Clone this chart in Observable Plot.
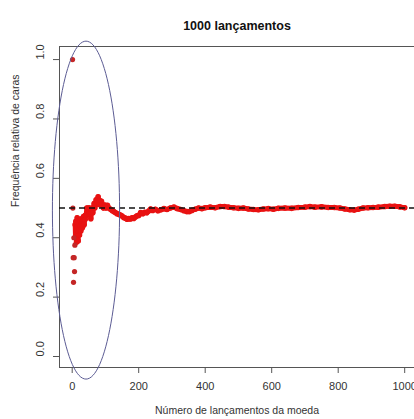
<!DOCTYPE html>
<html>
<head>
<meta charset="utf-8">
<script src="https://cdn.jsdelivr.net/npm/d3@7"></script>
<script src="https://cdn.jsdelivr.net/npm/@observablehq/plot@0.6"></script>
<style>
  html, body { margin: 0; padding: 0; background: white; }
</style>
</head>
<body>
<div id="chart"></div>
<script>
const chartTitle = "1000 lançamentos";
const xLabel = "Número de lançamentos da moeda";
const yLabel = "Frequência relativa de caras";
const xTicks = [0, 200, 400, 600, 800, 1000];
const yTicks = [0, 0.2, 0.4, 0.6, 0.8, 1.0];
const refLevel = [0.5];

// isolated first tosses
const earlyN = [1, 2, 3, 4, 5, 6, 7, 8];
const earlyFreq = [1.0, 0.5, 0.333, 0.25, 0.4, 0.333, 0.286, 0.375];

// dense band of running relative frequency
const tossN = [9, 10, 11, 12, 13, 14, 15, 16, 17, 18, 19, 20, 21, 22, 23, 24, 25, 26, 27, 28, 29, 30,
  31, 32, 33, 34, 35, 36, 37, 38, 39, 40, 42, 44, 46, 48, 50, 52, 54, 56, 58, 60, 62, 64, 66, 68, 70,
  72, 74, 76, 78, 80, 82, 84, 86, 88, 90, 94, 98, 102, 106, 110, 115, 120, 125, 130, 135, 140, 145,
  150, 155, 160, 165, 170, 175, 180, 185, 190, 195, 200, 206, 212, 218, 224, 230, 236, 242, 250, 258,
  267, 276, 285, 295, 306, 316, 326, 336, 345, 352, 360, 370, 380, 390, 400, 415, 430, 445, 458, 470,
  485, 500, 515, 530, 545, 560, 575, 590, 605, 620, 640, 660, 680, 700, 715, 730, 750, 770, 788, 805,
  820, 835, 848, 860, 875, 890, 905, 920, 940, 955, 970, 985, 1000];
const freq = [0.444, 0.4, 0.455, 0.417, 0.385, 0.429, 0.467, 0.438, 0.412, 0.389, 0.421, 0.45, 0.429,
  0.409, 0.435, 0.458, 0.44, 0.423, 0.444, 0.464, 0.448, 0.433, 0.452, 0.438, 0.455, 0.471, 0.457,
  0.444, 0.459, 0.474, 0.462, 0.475, 0.476, 0.5, 0.478, 0.5, 0.48, 0.5, 0.481, 0.464, 0.483, 0.5,
  0.484, 0.5, 0.515, 0.5, 0.514, 0.528, 0.514, 0.526, 0.538, 0.525, 0.512, 0.524, 0.512, 0.523, 0.511,
  0.5, 0.51, 0.5, 0.509, 0.5, 0.496, 0.492, 0.488, 0.485, 0.481, 0.479, 0.476, 0.473, 0.468, 0.466,
  0.462, 0.465, 0.463, 0.467, 0.465, 0.47, 0.474, 0.475, 0.485, 0.481, 0.486, 0.484, 0.49, 0.497,
  0.492, 0.496, 0.491, 0.494, 0.498, 0.495, 0.5, 0.503, 0.498, 0.495, 0.491, 0.488, 0.488, 0.492,
  0.496, 0.5, 0.498, 0.501, 0.503, 0.501, 0.505, 0.505, 0.503, 0.501, 0.499, 0.5, 0.497, 0.495, 0.494,
  0.497, 0.498, 0.496, 0.499, 0.5, 0.499, 0.502, 0.503, 0.505, 0.503, 0.504, 0.502, 0.502, 0.5, 0.497,
  0.494, 0.493, 0.496, 0.5, 0.501, 0.502, 0.503, 0.505, 0.506, 0.506, 0.504, 0.501];

// hand-drawn highlight ellipse (center and radii in data units)
const ellipseCenter = [41.5, 0.493];
const ellipseRadii = [101, 0.569];

const early = earlyN.map((n, i) => ({n, f: earlyFreq[i]}));
const band = tossN.map((n, i) => ({n, f: freq[i]}));
const ellipsePts = d3.range(0, 121).map(i => {
  const t = (i / 120) * 2 * Math.PI;
  return {x: ellipseCenter[0] + ellipseRadii[0] * Math.cos(t), y: ellipseCenter[1] + ellipseRadii[1] * Math.sin(t)};
});

const chart = Plot.plot({
  width: 414,
  height: 419,
  marginLeft: 59,
  marginRight: 0,
  marginTop: 46,
  marginBottom: 52,
  x: {domain: [-38.2, 1029.5]},
  y: {domain: [-0.037, 1.044]},
  style: {fontFamily: "'Liberation Sans', Arial, sans-serif", fontSize: "11px", color: "#333", background: "white"},
  marks: [
    Plot.frame({stroke: "#555"}),
    Plot.axisX({ticks: xTicks, tickSize: 6, tickPadding: 9, label: null, tickFormat: d => String(d), stroke: "#555", fontSize: 11}),
    Plot.axisY({ticks: yTicks, tickSize: 6, tickFormat: () => "", label: null, stroke: "#555"}),
    Plot.text(yTicks, {y: d => d, frameAnchor: "left", dx: -19, rotate: -90, text: d => d.toFixed(1), fontSize: 11, fill: "#333"}),
    Plot.line(band, {x: "n", y: "f", stroke: "#ee1111", strokeWidth: 5}),
    Plot.dot(band, {x: "n", y: "f", r: 2.8, fill: "#e81212"}),
    Plot.dot(early, {x: "n", y: "f", r: 2.6, fill: "#c42626"}),
    Plot.ruleY(refLevel, {stroke: "#111", strokeDasharray: "6,4", strokeWidth: 1.5}),
    Plot.line(ellipsePts, {x: "x", y: "y", stroke: "#5c5c94", strokeWidth: 1}),
    Plot.text([chartTitle], {frameAnchor: "top", dy: -25, fontWeight: "bold", fontSize: 12.5, fill: "#111"}),
    Plot.text([xLabel], {frameAnchor: "bottom", dy: 46, fontSize: 10.5, fill: "#333"}),
    Plot.text([yLabel], {frameAnchor: "left", dx: -44, rotate: -90, fontSize: 10.5, fill: "#333"})
  ]
});
document.getElementById("chart").appendChild(chart);
</script>
</body>
</html>
